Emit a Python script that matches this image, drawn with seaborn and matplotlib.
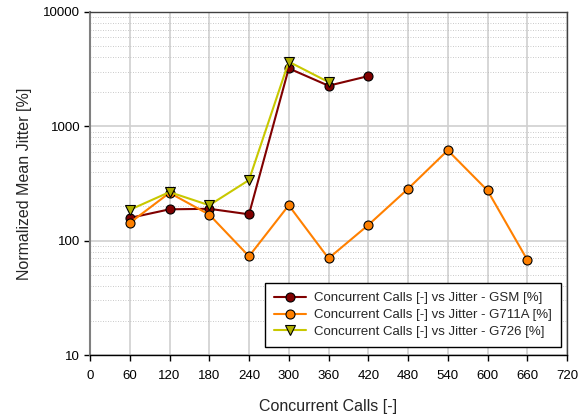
import matplotlib
matplotlib.use("Agg")
import matplotlib.pyplot as plt
import seaborn as sns
import pandas as pd
from matplotlib.ticker import LogLocator, NullFormatter, FixedLocator

calls_gsm = [60, 120, 180, 240, 300, 360, 420]
jitter_gsm = [158, 188, 190, 170, 3215, 2265, 2750]

calls_g711a = [60, 120, 180, 240, 300, 360, 420, 480, 540, 600, 660]
jitter_g711a = [143, 262, 169, 73, 204, 70, 137, 284, 617, 275, 68]

calls_g726 = [60, 120, 180, 240, 300, 360]
jitter_g726 = [186, 266, 204, 339, 3675, 2440]

labels = ["Concurrent Calls [-] vs Jitter - GSM [%]",
          "Concurrent Calls [-] vs Jitter - G711A [%]",
          "Concurrent Calls [-] vs Jitter - G726 [%]"]
x_ticks = [0, 60, 120, 180, 240, 300, 360, 420, 480, 540, 600, 660, 720]
y_ticks = [10, 100, 1000, 10000]

sns.set_style("white")
plt.rcParams['font.family'] = ['Liberation Sans', 'DejaVu Sans']

fig = plt.figure(figsize=(5.83, 4.17), dpi=100)
ax = fig.add_axes([90/583, 62/417, 477/583, 343/417])

series = [
    (calls_gsm, jitter_gsm, labels[0], "#800000", "#800000", "o"),
    (calls_g711a, jitter_g711a, labels[1], "#FF8000", "#FF8000", "o"),
    (calls_g726, jitter_g726, labels[2], "#C8C800", "#B0B000", "v"),
]
for xs, ys, lab, lc, fc, mk in series:
    df = pd.DataFrame({"x": xs, "y": ys})
    sns.lineplot(data=df, x="x", y="y", ax=ax, color=lc, linewidth=1.5,
                 marker=mk, markersize=6.5 if mk == "o" else 7,
                 markerfacecolor=fc, markeredgecolor="black",
                 markeredgewidth=0.8, label=lab, zorder=3)

ax.set_yscale("log")
ax.set_xlim(0, 720)
ax.set_ylim(10, 10000)
ax.xaxis.set_major_locator(FixedLocator(x_ticks))
ax.yaxis.set_major_locator(FixedLocator(y_ticks))
ax.set_yticklabels([str(v) for v in y_ticks])
ax.yaxis.set_minor_locator(LogLocator(base=10, subs=range(2, 10)))
ax.yaxis.set_minor_formatter(NullFormatter())

ax.grid(True, which="major", axis="both", color="#D0D0D0", linewidth=1.2, zorder=0)
ax.grid(True, which="minor", axis="y", color="#B8B8B8", linewidth=0.6,
        linestyle=(0, (1, 2)), zorder=0)
ax.set_axisbelow(True)

ax.spines["left"].set_color("#808080")
ax.spines["left"].set_linewidth(1.5)
ax.spines["bottom"].set_color("black")
ax.spines["bottom"].set_linewidth(1.0)
ax.spines["top"].set_color("#404040")
ax.spines["top"].set_linewidth(1.0)
ax.spines["right"].set_color("#404040")
ax.spines["right"].set_linewidth(1.0)

ax.tick_params(axis="x", which="major", direction="out", length=4,
               width=1, colors="black", labelsize=9.5, pad=7, bottom=True)
ax.tick_params(axis="y", which="major", direction="out", length=4,
               width=1, colors="black", labelsize=9.5, pad=3, left=True)
ax.tick_params(axis="y", which="minor", length=0, left=False)

ax.set_xlabel("Concurrent Calls [-]", fontsize=11.5, labelpad=12)
ax.set_ylabel("Normalized Mean Jitter [%]", fontsize=11.5, labelpad=8)

leg = ax.legend(loc="lower right", bbox_to_anchor=(0.993, 0.015), fontsize=9.5,
                frameon=True, fancybox=False, edgecolor="black",
                framealpha=1, borderpad=0.7, handlelength=2.4,
                labelspacing=0.35, handletextpad=0.6, borderaxespad=0.2)
leg.get_frame().set_linewidth(1.0)

fig.savefig("out.png", dpi=100)
